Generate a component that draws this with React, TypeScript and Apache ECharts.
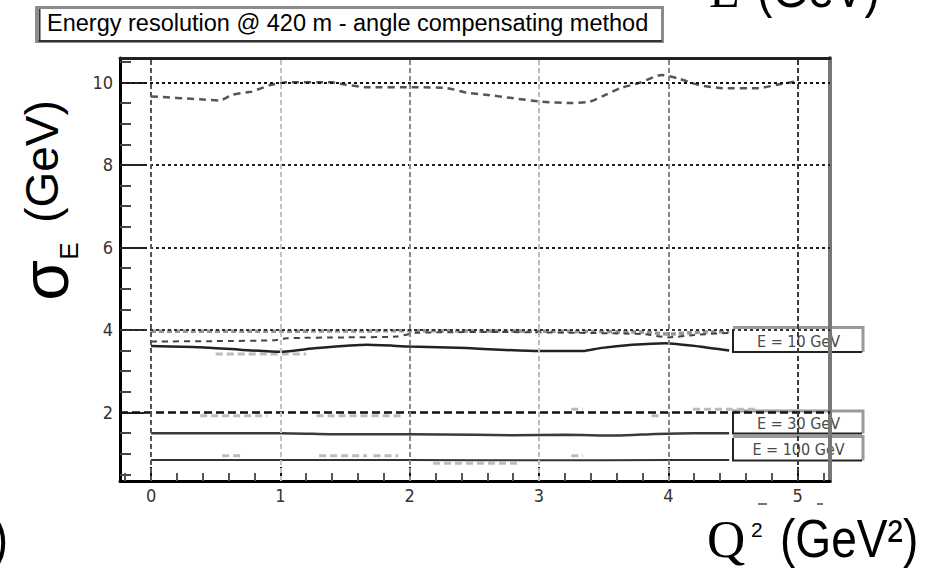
import React, { useEffect, useRef } from 'react';
import * as echarts from 'echarts';

// ---- axis ticks ----
const xMajorTicks = [0, 1, 2, 3, 4, 5];
const xMinorTicks = [-0.2, 0.2, 0.4, 0.6, 0.8, 1.2, 1.4, 1.6, 1.8, 2.2, 2.4, 2.6, 2.8, 3.2, 3.4, 3.6, 3.8, 4.2, 4.4, 4.6, 4.8, 5.2];
const yMajorTicks = [2, 4, 6, 8, 10];
const yMinorTicks = [0.5, 1, 1.5, 2.5, 3, 3.5, 4.5, 5, 5.5, 6.5, 7, 7.5, 8.5, 9, 9.5, 10.5];
const xRange = [-0.24, 5.25];
const yRange = [0.34, 10.59];

// grid lines
const hGridValues = [2, 4, 6, 8, 10];
const vGridValues = [0, 1, 2, 3, 4, 5];

// ---- series data ----
const topDashedX = [0, 0.38, 0.53, 0.63, 0.78, 0.93, 1.05, 1.4, 1.51, 1.67, 2.05, 2.29, 2.44, 2.59, 2.79, 3.02, 3.25, 3.39, 3.49, 3.63, 3.77, 3.95, 4.07, 4.23, 4.42, 4.7, 4.84, 4.98];
const topDashedY = [9.66, 9.59, 9.56, 9.7, 9.78, 9.94, 10.0, 10.0, 9.94, 9.88, 9.88, 9.86, 9.75, 9.7, 9.62, 9.53, 9.5, 9.53, 9.66, 9.86, 9.98, 10.18, 10.1, 9.94, 9.86, 9.86, 9.94, 10.02];

const e10DottedX = [0, 1, 2, 3, 3.8, 4.0, 4.2, 4.47];
const e10DottedY = [3.97, 3.97, 3.98, 3.97, 3.95, 3.9, 3.94, 3.96];

const e10DashedX = [0, 0.5, 0.95, 1.05, 1.5, 1.9, 2.05, 2.7, 3.3, 3.8, 4.0, 4.2, 4.47];
const e10DashedY = [3.72, 3.73, 3.75, 3.8, 3.82, 3.84, 3.93, 3.95, 3.93, 3.9, 3.82, 3.88, 3.93];

const e10SolidX = [0, 0.38, 0.69, 1.0, 1.28, 1.67, 2.0, 2.44, 2.7, 3.0, 3.34, 3.47, 3.72, 3.98, 4.24, 4.47];
const e10SolidY = [3.61, 3.58, 3.52, 3.47, 3.56, 3.64, 3.6, 3.56, 3.52, 3.49, 3.49, 3.56, 3.64, 3.68, 3.6, 3.5];

const e30SolidX = [0, 1.0, 1.5, 2.0, 2.5, 2.8, 3.2, 3.6, 3.9, 4.2, 4.47];
const e30SolidY = [1.5, 1.5, 1.47, 1.47, 1.46, 1.45, 1.46, 1.44, 1.48, 1.5, 1.5];

const e100SolidX = [0, 1, 2, 3, 4, 4.47];
const e100SolidY = [0.85, 0.85, 0.85, 0.84, 0.85, 0.85];

// faint grey fragments: start x, end x, value
const faintSegX0 = [0.5, 0.55, 1.3, 1.72, 2.18, 3.25, 0.38, 1.28, 3.25, 4.19, 3.87];
const faintSegX1 = [1.2, 0.7, 1.67, 1.91, 2.85, 3.34, 0.9, 1.95, 3.34, 4.68, 3.93];
const faintSegY = [3.42, 0.95, 0.95, 0.95, 0.77, 0.95, 1.92, 1.92, 2.08, 2.08, 1.92];

const legendLabels = ['E = 10 GeV', 'E = 30 GeV', 'E = 100 GeV'];
const titleText = 'Energy resolution @ 420 m - angle compensating method';

const SANS = '"Liberation Sans", Arial, Helvetica, sans-serif';
const SERIF = '"Liberation Serif", "Times New Roman", serif';
const NARROW = '"Liberation Sans Narrow", "DejaVu Sans Condensed", "Liberation Sans", sans-serif';

const zip = (xs: number[], ys: number[]) => xs.map((x, i) => [x, ys[i]]);

function buildSegments() {
  const out: any[] = [];
  faintSegX0.forEach((x0, i) => {
    out.push([x0, faintSegY[i]]);
    out.push([faintSegX1[i], faintSegY[i]]);
    out.push([faintSegX1[i], null]);
  });
  return out;
}

const hGridStyles = [
  { color: '#111', width: 2.5, type: [8, 4] },
  { color: '#333', width: 2, type: [3, 3] },
  { color: '#222', width: 2, type: [3, 3] },
  { color: '#222', width: 2, type: [3, 3] },
  { color: '#111', width: 2, type: [3, 3] },
];
const vGridColors = ['#555', '#c4c4c4', '#8a8a8a', '#bdbdbd', '#858585', '#3a3a3a'];

export default function App() {
  const ref = useRef<HTMLDivElement>(null);

  useEffect(() => {
    if (!ref.current) return;
    const chart = echarts.init(ref.current, undefined, { renderer: 'svg' });

    const lineBase = {
      type: 'line',
      xAxisIndex: 0,
      yAxisIndex: 0,
      showSymbol: false,
      symbol: 'none',
      silent: true,
      smooth: 0.2,
    };

    const markLineData: any[] = [];
    hGridValues.forEach((v, i) => markLineData.push({ yAxis: v, lineStyle: hGridStyles[i] }));
    vGridValues.forEach((v, i) =>
      markLineData.push({ xAxis: v, lineStyle: { color: vGridColors[i], width: 2, type: [5, 3] } })
    );

    const legendBoxY = [329, 412.5, 438];
    const legendBoxH = [23, 21, 22.5];
    const boxX = 733;
    const boxW = 130;

    const graphics: any[] = [];
    // title box
    graphics.push({
      type: 'rect', z: 10,
      shape: { x: 36.5, y: 7.5, width: 626, height: 34 },
      style: { fill: '#fff', stroke: '#8c8c8c', lineWidth: 3 },
    });
    graphics.push({
      type: 'polyline', z: 11,
      shape: { points: [[39.5, 9], [39.5, 41], [662, 41]] },
      style: { stroke: '#333', lineWidth: 2, fill: null },
    });
    graphics.push({
      type: 'text', z: 12, x: 47, y: 22.5,
      style: { text: titleText, font: `23.5px ${SANS}`, fill: '#000', align: 'left', verticalAlign: 'middle' },
    });

    // legend boxes
    legendLabels.forEach((lab, i) => {
      const y = legendBoxY[i];
      const h = legendBoxH[i];
      graphics.push({
        type: 'rect', z: -1,
        shape: { x: boxX, y, width: boxW, height: h },
        style: { fill: '#fff' },
      });
      graphics.push({
        type: 'polyline', z: -1,
        shape: { points: [[boxX, y - 1.5], [boxX + boxW, y - 1.5], [boxX + boxW, y + h]] },
        style: { stroke: '#9a9a9a', lineWidth: 3, fill: null },
      });
      graphics.push({
        type: 'polyline', z: -1,
        shape: { points: [[boxX, y], [boxX, y + h], [boxX + boxW - 1, y + h]] },
        style: { stroke: '#222', lineWidth: 2, fill: null },
      });
      graphics.push({
        type: 'text', z: -1, x: boxX + boxW / 2 + 0.5, y: y + h / 2 + 0.5,
        style: { text: lab, font: `16px ${NARROW}`, fill: '#4a4a4a', align: 'center', verticalAlign: 'middle' },
      });
    });

    // y axis title (rotated)
    graphics.push({
      type: 'text', x: 42, y: 161.5, rotation: Math.PI / 2,
      style: { text: '(GeV)', font: `46px ${SANS}`, fill: '#000', align: 'center', verticalAlign: 'middle' },
    });
    graphics.push({
      type: 'text', x: 68.5, y: 251, rotation: Math.PI / 2,
      style: { text: 'E', font: `26px ${SANS}`, fill: '#000', align: 'center', verticalAlign: 'middle' },
    });
    graphics.push({
      type: 'text', x: 45, y: 280.5, rotation: Math.PI / 2,
      style: { text: 'σ', font: `66px ${SANS}`, fill: '#000', align: 'center', verticalAlign: 'middle' },
    });

    // x axis title
    graphics.push({
      type: 'text', x: 707, y: 539.1,
      style: { text: 'Q', font: `53px ${SERIF}`, fill: '#000', align: 'left', verticalAlign: 'middle' },
    });
    graphics.push({
      type: 'text', x: 751, y: 529.7,
      style: { text: '2', font: `21px ${SANS}`, fill: '#000', align: 'left', verticalAlign: 'middle' },
    });
    graphics.push({
      type: 'text', x: 780, y: 538.6, scaleX: 0.87,
      style: { text: '(GeV²)', font: `53px ${SANS}`, fill: '#000', align: 'left', verticalAlign: 'middle' },
    });
    // clipped neighbour texts
    graphics.push({
      type: 'text', x: 8, y: 538.6, scaleX: 0.87,
      style: { text: ')', font: `53px ${SANS}`, fill: '#000', align: 'right', verticalAlign: 'middle' },
    });
    graphics.push({
      type: 'text', x: 709, y: -9.9,
      style: { text: 'E', font: `50px ${SERIF}`, fill: '#000', align: 'left', verticalAlign: 'middle' },
    });
    graphics.push({
      type: 'text', x: 757, y: -11.4, scaleX: 0.87,
      style: { text: '(GeV)', font: `53px ${SANS}`, fill: '#000', align: 'left', verticalAlign: 'middle' },
    });
    // tiny marks under the axis
    graphics.push({ type: 'line', shape: { x1: 758, y1: 504, x2: 767, y2: 504 }, style: { stroke: '#777', lineWidth: 2 } });
    graphics.push({ type: 'line', shape: { x1: 817, y1: 504, x2: 823, y2: 504 }, style: { stroke: '#777', lineWidth: 2 } });

    const hiddenLabel = { show: false };
    const option: any = {
      animation: false,
      backgroundColor: '#ffffff',
      grid: { left: 120, top: 58, width: 710, height: 423, containLabel: false },
      xAxis: [
        {
          type: 'value', min: xRange[0], max: xRange[1], position: 'bottom',
          axisLine: { show: true, onZero: false, lineStyle: { color: '#000', width: 3 } },
          axisTick: { show: true, inside: true, length: 14, customValues: xMajorTicks, lineStyle: { color: '#111', width: 2 } },
          axisLabel: { show: true, customValues: xMajorTicks, margin: 5, fontSize: 18, fontFamily: NARROW, color: '#333' },
          splitLine: { show: false },
        },
        {
          type: 'value', min: xRange[0], max: xRange[1], position: 'bottom',
          axisLine: { show: false, onZero: false },
          axisTick: { show: true, inside: true, length: 8, customValues: xMinorTicks, lineStyle: { color: '#555', width: 2 } },
          axisLabel: hiddenLabel,
          splitLine: { show: false },
        },
        {
          type: 'value', min: xRange[0], max: xRange[1], position: 'top',
          axisLine: { show: true, onZero: false, lineStyle: { color: '#222', width: 3 } },
          axisTick: { show: false },
          axisLabel: hiddenLabel,
          splitLine: { show: false },
        },
      ],
      yAxis: [
        {
          type: 'value', min: yRange[0], max: yRange[1], position: 'left',
          axisLine: { show: true, onZero: false, lineStyle: { color: '#000', width: 3 } },
          axisTick: { show: true, inside: true, length: 24, customValues: yMajorTicks, lineStyle: { color: '#222', width: 2 } },
          axisLabel: { show: true, customValues: yMajorTicks, margin: 7, fontSize: 18, fontFamily: NARROW, color: '#333' },
          splitLine: { show: false },
        },
        {
          type: 'value', min: yRange[0], max: yRange[1], position: 'left',
          axisLine: { show: false, onZero: false },
          axisTick: { show: true, inside: true, length: 11, customValues: yMinorTicks, lineStyle: { color: '#444', width: 2 } },
          axisLabel: hiddenLabel,
          splitLine: { show: false },
        },
        {
          type: 'value', min: yRange[0], max: yRange[1], position: 'right',
          axisLine: { show: true, onZero: false, lineStyle: { color: '#777', width: 4 } },
          axisTick: { show: false },
          axisLabel: hiddenLabel,
          splitLine: { show: false },
        },
      ],
      graphic: { elements: graphics },
      series: [
        {
          ...lineBase, name: 'grid', data: [], z: 1,
          markLine: { silent: true, symbol: ['none', 'none'], label: { show: false }, animation: false, data: markLineData },
        },
        { ...lineBase, name: 'faint', data: buildSegments(), smooth: false, lineStyle: { color: '#bcbcbc', width: 3, type: [7, 4] } },
        { ...lineBase, name: 'E=100 GeV upper', data: zip(topDashedX, topDashedY), lineStyle: { color: '#555', width: 2.5, type: [7, 5] } },
        { ...lineBase, name: 'E=10 GeV dotted', data: zip(e10DottedX, e10DottedY), lineStyle: { color: '#959595', width: 3.5, type: [5, 3] } },
        { ...lineBase, name: 'E=10 GeV dashed', data: zip(e10DashedX, e10DashedY), lineStyle: { color: '#444', width: 2, type: [6, 5] } },
        { ...lineBase, name: 'E=10 GeV', data: zip(e10SolidX, e10SolidY), lineStyle: { color: '#222', width: 2.5 } },
        { ...lineBase, name: 'E=30 GeV', data: zip(e30SolidX, e30SolidY), lineStyle: { color: '#3a3a3a', width: 2.5 } },
        { ...lineBase, name: 'E=100 GeV', data: zip(e100SolidX, e100SolidY), lineStyle: { color: '#333', width: 2 } },
      ],
    };

    chart.setOption(option);
    return () => chart.dispose();
  }, []);

  return (
    <div
      ref={ref}
      style={{ position: 'absolute', left: 0, top: 0, width: 940, height: 568, background: '#fff' }}
    />
  );
}
